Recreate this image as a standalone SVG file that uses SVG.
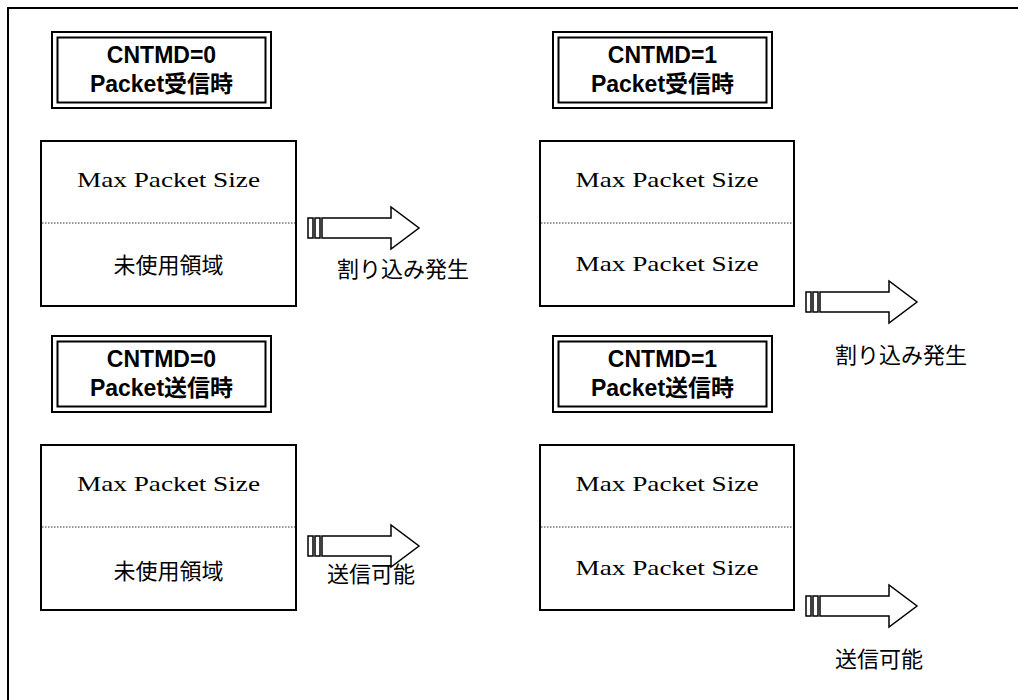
<svg xmlns="http://www.w3.org/2000/svg" width="1018" height="700" viewBox="0 0 1018 700">
<style>
.frame{fill:none;stroke:#000;stroke-width:2}
.lb{fill:#fff;stroke:#000;stroke-width:2}
.box{fill:#fff;stroke:#000;stroke-width:2}
.dot{stroke:#333;stroke-width:1;stroke-dasharray:1.5 1.5}
.t{font-family:"Liberation Sans","Noto Sans CJK JP",sans-serif;font-weight:bold;font-size:23px;text-anchor:middle;fill:#000}
.s{font-family:"Liberation Serif","DejaVu Serif",serif;font-size:21px;text-anchor:middle;fill:#000}
.j{font-family:"Noto Sans CJK JP",sans-serif;font-size:22px;fill:#000}
.jm{text-anchor:middle}
.ar{fill:#fff;stroke:#000;stroke-width:1.5}
</style>
<defs>
<g id="arrow">
<rect class="ar" x="0" y="-10" width="5" height="20"/>
<rect class="ar" x="7" y="-10" width="5" height="20"/>
<polygon class="ar" points="14,-10 83,-10 83,-21 111,0 83,21 83,10 14,10"/>
</g>
</defs>
<rect class="frame" x="8" y="8" width="1030" height="720"/>

<g id="label-rx0">
<rect class="lb" x="52" y="32" width="219" height="76"/>
<rect class="lb" x="57.5" y="37.5" width="208" height="65"/>
<text class="t" x="161.5" y="63">CNTMD=0</text>
<text class="t" x="161.5" y="92">Packet受信時</text>
</g>
<g id="label-rx1">
<rect class="lb" x="553" y="32" width="219" height="76"/>
<rect class="lb" x="558.5" y="37.5" width="208" height="65"/>
<text class="t" x="662.5" y="63">CNTMD=1</text>
<text class="t" x="662.5" y="92">Packet受信時</text>
</g>
<g id="label-tx0">
<rect class="lb" x="52" y="336" width="219" height="76"/>
<rect class="lb" x="57.5" y="341.5" width="208" height="65"/>
<text class="t" x="161.5" y="367">CNTMD=0</text>
<text class="t" x="161.5" y="396">Packet送信時</text>
</g>
<g id="label-tx1">
<rect class="lb" x="553" y="336" width="219" height="76"/>
<rect class="lb" x="558.5" y="341.5" width="208" height="65"/>
<text class="t" x="662.5" y="367">CNTMD=1</text>
<text class="t" x="662.5" y="396">Packet送信時</text>
</g>

<g id="buf-rx0">
<rect class="box" x="41" y="141" width="255" height="165"/>
<line class="dot" x1="42" y1="223" x2="295" y2="223"/>
<text class="s" x="168.5" y="187" textLength="183" lengthAdjust="spacingAndGlyphs">Max Packet Size</text>
<text class="j jm" x="168.5" y="273">未使用領域</text>
</g>
<g id="buf-rx1">
<rect class="box" x="540" y="141" width="254" height="165"/>
<line class="dot" x1="541" y1="223" x2="793" y2="223"/>
<text class="s" x="667" y="187" textLength="183" lengthAdjust="spacingAndGlyphs">Max Packet Size</text>
<text class="s" x="667" y="271" textLength="183" lengthAdjust="spacingAndGlyphs">Max Packet Size</text>
</g>
<g id="buf-tx0">
<rect class="box" x="41" y="445" width="255" height="165"/>
<line class="dot" x1="42" y1="527" x2="295" y2="527"/>
<text class="s" x="168.5" y="491" textLength="183" lengthAdjust="spacingAndGlyphs">Max Packet Size</text>
<text class="j jm" x="168.5" y="579">未使用領域</text>
</g>
<g id="buf-tx1">
<rect class="box" x="540" y="445" width="254" height="165"/>
<line class="dot" x1="541" y1="527" x2="793" y2="527"/>
<text class="s" x="667" y="491" textLength="183" lengthAdjust="spacingAndGlyphs">Max Packet Size</text>
<text class="s" x="667" y="575" textLength="183" lengthAdjust="spacingAndGlyphs">Max Packet Size</text>
</g>

<g id="connectors">
<use href="#arrow" transform="translate(308,228)"/>
<use href="#arrow" transform="translate(806,302)"/>
<use href="#arrow" transform="translate(308,546)"/>
<use href="#arrow" transform="translate(806,606)"/>
</g>
<g id="labels">
<text class="j" x="337" y="277">割り込み発生</text>
<text class="j" x="835" y="363">割り込み発生</text>
<text class="j" x="327" y="582">送信可能</text>
<text class="j" x="835" y="667">送信可能</text>
</g>
</svg>
